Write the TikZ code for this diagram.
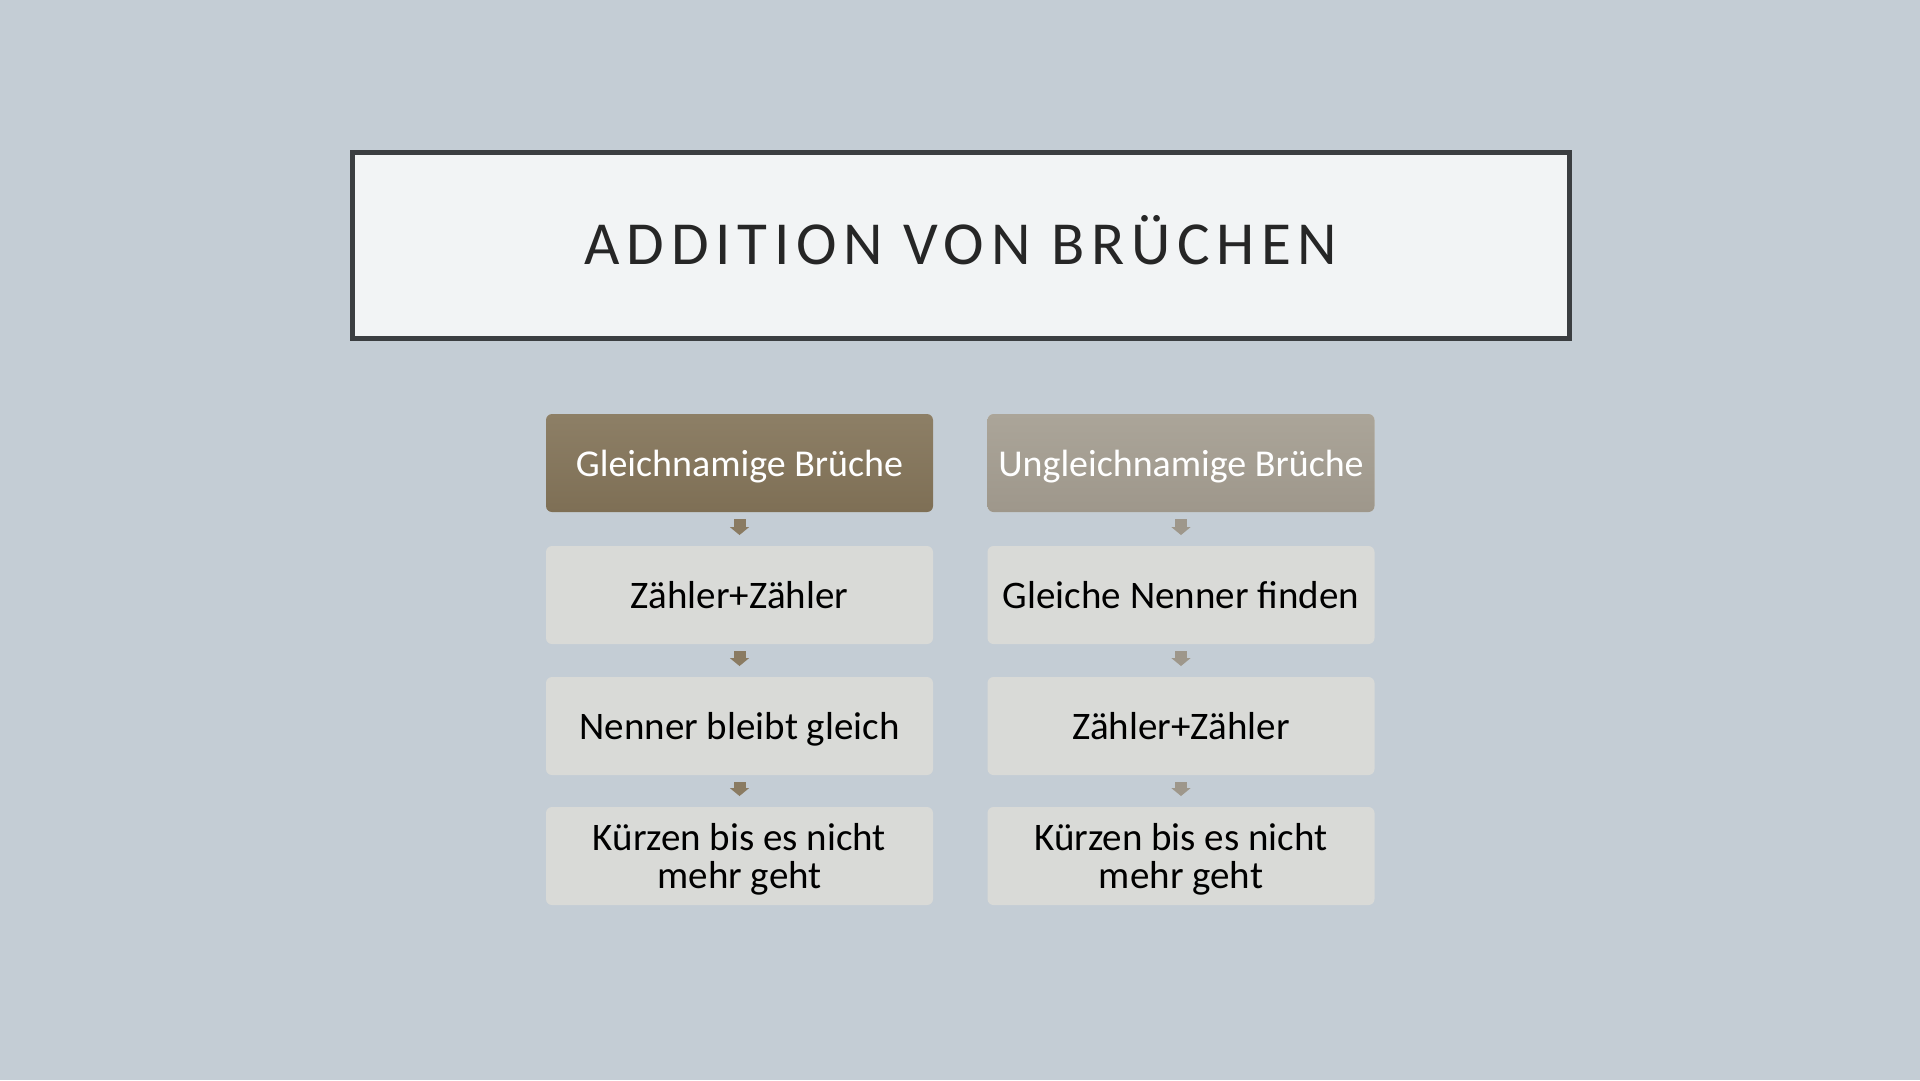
\documentclass[tikz,border=0pt]{standalone}
\usepackage{fontspec}
\setmainfont{Carlito}
\newfontfamily\titlefont[LetterSpace=11]{Carlito}
\usepackage{tikz}
\usetikzlibrary{arrows.meta}

\definecolor{bgcol}{HTML}{C4CDD5}
\definecolor{titlefill}{HTML}{F2F4F5}
\definecolor{titleframe}{HTML}{3B3E41}
\definecolor{titletext}{HTML}{262626}
\definecolor{headlefttop}{HTML}{8D7F66}
\definecolor{headleftbot}{HTML}{7E6F55}
\definecolor{headrighttop}{HTML}{ABA599}
\definecolor{headrightbot}{HTML}{9E978B}
\definecolor{boxfill}{HTML}{D9DAD7}
\definecolor{arrowleft}{HTML}{8A7B62}
\definecolor{arrowright}{HTML}{9E978B}

\begin{document}
\begin{tikzpicture}[
  x=0.1mm,
  y=-0.1mm,
  titlebox/.style={
    rectangle,
    draw=titleframe,
    line width=0.5mm,
    fill=titlefill,
    minimum width=121.7mm,
    minimum height=18.6mm,
    inner sep=0pt,
    outer sep=0pt,
    text=titletext,
    font=\titlefont\fontsize{17.4}{20}\selectfont,
    text height=11pt,
    text depth=0pt
  },
  mybox/.style={
    rectangle,
    rounded corners=0.6mm,
    fill=boxfill,
    minimum width=38.7mm,
    minimum height=9.8mm,
    inner sep=0pt,
    outer sep=0pt,
    text=black,
    align=center,
    font=\fontsize{11.1}{10.8}\selectfont,
    text depth=0pt
  },
  myhead/.style={
    mybox,
    text=white,
    font=\fontsize{10.8}{10.8}\selectfont
  },
  myarrow/.style={
    -{Triangle[width=1.9mm,length=0.8mm]},
    line width=1.2mm,
    shorten <=0.7mm,
    shorten >=1.1mm
  }
]
\fill[bgcol] (0,0) rectangle (1920,1080);
\useasboundingbox (0,0) rectangle (1920,1080);

\node[titlebox] (title) at (961,245.5) {ADDITION VON BRÜCHEN};

% linke Spalte
\node[myhead, top color=headlefttop, bottom color=headleftbot] (headL) at (739.5,463) {Gleichnamige Brüche};
\node[mybox] (boxL1) at (739.5,595) {Zähler+Zähler};
\node[mybox] (boxL2) at (739.5,726) {Nenner bleibt gleich};
\node[mybox] (boxL3) at (739.5,856) {Kürzen bis es nicht\\mehr geht};

% rechte Spalte
\node[myhead, top color=headrighttop, bottom color=headrightbot] (headR) at (1181,463) {Ungleichnamige Brüche};
\node[mybox] (boxR1) at (1181,595) {Gleiche Nenner finden};
\node[mybox] (boxR2) at (1181,726) {Zähler+Zähler};
\node[mybox] (boxR3) at (1181,856) {Kürzen bis es nicht\\mehr geht};

\draw[myarrow, arrowleft] (headL) -- (boxL1);
\draw[myarrow, arrowleft] (boxL1) -- (boxL2);
\draw[myarrow, arrowleft] (boxL2) -- (boxL3);
\draw[myarrow, arrowright] (headR) -- (boxR1);
\draw[myarrow, arrowright] (boxR1) -- (boxR2);
\draw[myarrow, arrowright] (boxR2) -- (boxR3);
\end{tikzpicture}
\end{document}
